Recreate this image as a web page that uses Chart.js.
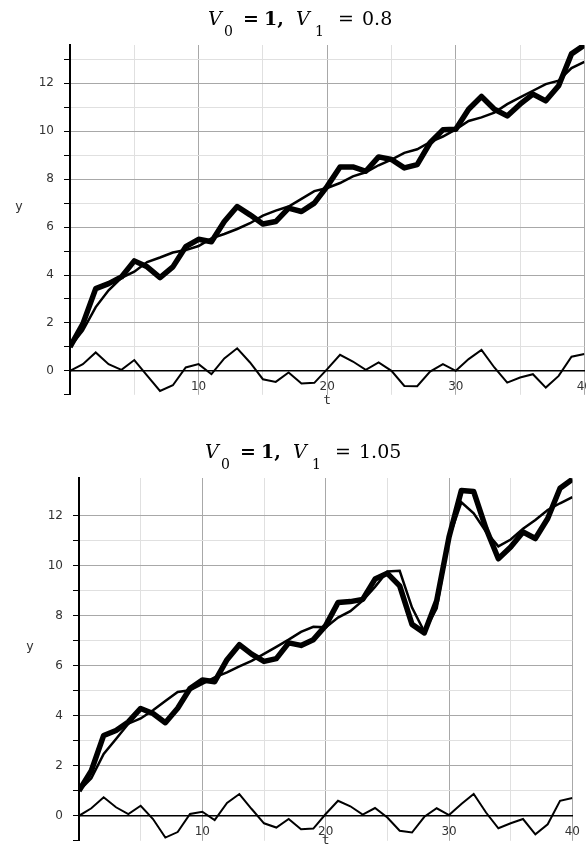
<!DOCTYPE html>
<html>
<head>
<meta charset="utf-8">
<script src="https://cdn.jsdelivr.net/npm/chart.js@4.4.1/dist/chart.umd.min.js"></script>
<style>
  html, body { margin: 0; padding: 0; background: #fff; }
  #wrap { position: relative; width: 586px; height: 849px; overflow: hidden; }
  canvas { position: absolute; left: 0; }
  #c1 { top: 0; }
  #c2 { top: 424px; }
</style>
</head>
<body>
<div id="wrap">
  <canvas id="c1" width="601" height="412"></canvas>
  <canvas id="c2" width="589" height="434"></canvas>
</div>
<script>
// time steps
var tVals = [0, 1, 2, 3, 4, 5, 6, 7, 8, 9, 10, 11, 12, 13, 14, 15, 16, 17, 18, 19, 20,
             21, 22, 23, 24, 25, 26, 27, 28, 29, 30, 31, 32, 33, 34, 35, 36, 37, 38, 39, 40];

// V0 = 1, V1 = 0.8
var obs1 = [1.0, 1.96, 3.43, 3.64, 3.92, 4.59, 4.34, 3.89, 4.34, 5.18, 5.49, 5.39, 6.23, 6.86, 6.51, 6.13, 6.23, 6.79, 6.65, 7.0, 7.7,
            8.51, 8.51, 8.33, 8.93, 8.82, 8.47, 8.61, 9.52, 10.06, 10.08, 10.92, 11.45, 10.92, 10.64, 11.13, 11.55, 11.27, 11.9, 13.23, 13.6];
var fit1 = [1.0, 1.68, 2.66, 3.36, 3.88, 4.14, 4.54, 4.73, 4.94, 5.04, 5.21, 5.53, 5.71, 5.92, 6.16, 6.48, 6.69, 6.86, 7.18, 7.5, 7.63,
            7.84, 8.12, 8.29, 8.58, 8.82, 9.1, 9.25, 9.55, 9.78, 10.08, 10.43, 10.58, 10.78, 11.13, 11.41, 11.69, 11.97, 12.11, 12.64, 12.9];
var resid1 = [0, 0.28, 0.77, 0.28, 0.04, 0.45, -0.2, -0.84, -0.6, 0.14, 0.28, -0.14, 0.52, 0.94, 0.35, -0.35, -0.46, -0.07, -0.53, -0.5, 0.07,
              0.67, 0.39, 0.04, 0.35, 0, -0.63, -0.64, -0.03, 0.28, 0, 0.49, 0.87, 0.14, -0.49, -0.28, -0.14, -0.7, -0.21, 0.59, 0.7];

// V0 = 1, V1 = 1.05
var obs2 = [1.0, 1.8, 3.21, 3.41, 3.75, 4.29, 4.09, 3.72, 4.3, 5.09, 5.43, 5.36, 6.24, 6.84, 6.46, 6.17, 6.28, 6.91, 6.81, 7.04, 7.6,
            8.52, 8.56, 8.65, 9.46, 9.69, 9.19, 7.65, 7.31, 8.59, 11.14, 13.0, 12.96, 11.48, 10.27, 10.74, 11.34, 11.08, 11.88, 13.09, 13.45];
var fit2 = [1.0, 1.5, 2.47, 3.07, 3.68, 3.89, 4.22, 4.59, 4.95, 5.02, 5.27, 5.53, 5.73, 5.97, 6.19, 6.47, 6.75, 7.04, 7.35, 7.55, 7.53,
            7.92, 8.18, 8.6, 9.15, 9.76, 9.79, 8.32, 7.35, 8.29, 11.1, 12.53, 12.09, 11.35, 10.77, 11.04, 11.47, 11.82, 12.22, 12.49, 12.74];
var resid2 = [0, 0.3, 0.74, 0.34, 0.07, 0.4, -0.13, -0.87, -0.65, 0.07, 0.16, -0.17, 0.51, 0.87, 0.27, -0.3, -0.47, -0.13, -0.54, -0.51, 0.07,
              0.6, 0.38, 0.05, 0.31, -0.07, -0.6, -0.67, -0.04, 0.3, 0.03, 0.47, 0.87, 0.13, -0.5, -0.3, -0.13, -0.74, -0.34, 0.6, 0.71];

var xTickLabels = [10, 20, 30, 40];
var yTickLabels = [0, 2, 4, 6, 8, 10, 12];

function pts(ys) {
    return tVals.map(function (t, i) { return { x: t, y: ys[i] }; });
}

// title, "y" and "t" drawn over the chart
var decor = {
    id: 'decor',
    afterDraw: function (chart, args, o) {
        var ctx = chart.ctx;
        var serif = '"DejaVu Serif"';
        ctx.save();
        ctx.fillStyle = '#000';
        ctx.textAlign = 'left';
        ctx.textBaseline = 'alphabetic';
        // [text, font, offset from title start, baseline shift]
        var parts = [
            ['V', 'italic 19px ' + serif, 0, 0],
            ['0', '14px ' + serif, 16, 11],
            ['=', 'bold 19px ' + serif, 35, 0],
            ['1,', 'bold 19px ' + serif, 56, 0],
            ['V', 'italic 19px ' + serif, 88, 0],
            ['1', '14px ' + serif, 107, 11],
            ['=', '19px ' + serif, 130, 0],
            [o.v1, '19px ' + serif, 154, 0]
        ];
        parts.forEach(function (p) {
            ctx.font = p[1];
            ctx.fillText(p[0], o.titleX + p[2], o.titleY + p[3]);
        });
        ctx.fillStyle = '#333';
        ctx.textAlign = 'center';
        ctx.textBaseline = 'middle';
        ctx.font = '13px "DejaVu Sans Mono"';
        ctx.fillText('y', o.yX, o.yY);
        ctx.fillText('t', chart.scales.x.getPixelForValue(20), o.tY);
        ctx.restore();
    }
};

function makeChart(id, obs, fit, resid, cfg) {
    var ctx = document.getElementById(id).getContext('2d');
    return new Chart(ctx, {
        type: 'line',
        data: {
            datasets: [
                { data: pts(resid), borderColor: '#000', borderWidth: 2, pointRadius: 0, tension: 0 },
                { data: pts(fit), borderColor: '#000', borderWidth: 2.5, pointRadius: 0, tension: 0 },
                { data: pts(obs), borderColor: '#000', borderWidth: 5.5, pointRadius: 0, tension: 0, borderJoinStyle: 'round' }
            ]
        },
        plugins: [decor],
        options: {
            responsive: false,
            animation: false,
            layout: { padding: { top: cfg.top, right: 0, left: 0, bottom: 0 } },
            plugins: {
                legend: { display: false },
                tooltip: { enabled: false },
                decor: cfg.decor
            },
            scales: {
                x: {
                    type: 'linear',
                    min: 0,
                    max: 40,
                    position: { y: 0 },
                    ticks: {
                        stepSize: 5,
                        autoSkip: false,
                        maxRotation: 0,
                        padding: 9,
                        color: '#333',
                        font: { family: 'DejaVu Sans', size: 12 },
                        callback: function (v) { return xTickLabels.indexOf(v) >= 0 ? String(v) : ''; }
                    },
                    grid: {
                        drawTicks: false,
                        lineWidth: 1,
                        color: function (c) {
                            var v = c.tick ? c.tick.value : 0;
                            if (v === 0) return 'rgba(0,0,0,0)';
                            return v % 10 === 0 ? '#a8a8a8' : '#e0e0e0';
                        }
                    },
                    border: { color: '#000', width: 1.5 }
                },
                y: {
                    type: 'linear',
                    min: -1,
                    max: cfg.ymax,
                    afterFit: function (s) { s.width = cfg.yw; },
                    ticks: {
                        stepSize: 1,
                        padding: 10,
                        color: '#333',
                        font: { family: 'DejaVu Sans', size: 12 },
                        callback: function (v) { return yTickLabels.indexOf(v) >= 0 ? String(v) : ''; }
                    },
                    grid: {
                        tickLength: 6,
                        lineWidth: 1,
                        color: function (c) {
                            var v = c.tick ? c.tick.value : 0;
                            if (v <= 0 || v !== Math.round(v)) return 'rgba(0,0,0,0)';
                            return v % 2 === 0 ? '#a8a8a8' : '#e0e0e0';
                        },
                        tickColor: function (c) {
                            var v = c.tick ? c.tick.value : 0;
                            return v === Math.round(v) ? '#000' : 'rgba(0,0,0,0)';
                        }
                    },
                    border: { color: '#000', width: 2 }
                }
            }
        }
    });
}

makeChart('c1', obs1, fit1, resid1, {
    top: 45, yw: 70, ymax: 13.6,
    decor: { v1: '0.8', titleX: 208, titleY: 25, yX: 19, yY: 207, tY: 401 }
});
makeChart('c2', obs2, fit2, resid2, {
    top: 54, yw: 79, ymax: 13.5,
    decor: { v1: '1.05', titleX: 205, titleY: 34, yX: 30, yY: 223, tY: 417 }
});
</script>
</body>
</html>
